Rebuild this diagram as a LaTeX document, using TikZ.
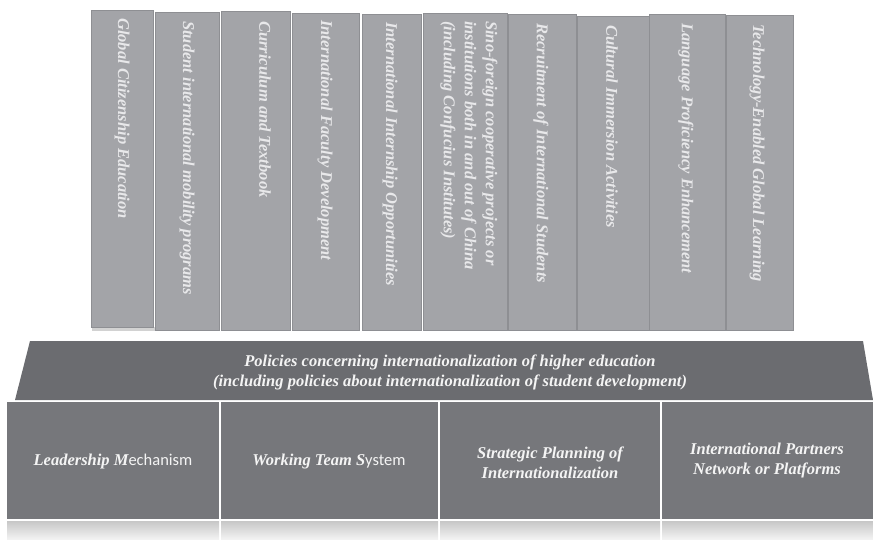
\documentclass[tikz,border=0pt]{standalone}
\usepackage{fontspec}
\setmainfont{Liberation Serif}
\newfontfamily\carlitofont{Carlito}
\usetikzlibrary{positioning}
\definecolor{colfill}{HTML}{A3A4A8}
\definecolor{coledge}{HTML}{8E8F93}
\definecolor{coltext}{HTML}{E8E8EA}
\definecolor{trapfill}{HTML}{6B6C70}
\definecolor{boxfill}{HTML}{76777B}
\definecolor{boxtext}{HTML}{F4F4F4}
\tikzset{
  colbox/.style={fill=colfill, draw=coledge, line width=0.6pt},
  coltxt/.style={rotate=-90, anchor=west, inner sep=0pt, text=coltext,
    font=\fontsize{16.5}{21}\selectfont\bfseries\itshape, align=left},
  basebox/.style={fill=boxfill, draw=none},
  boxtxt/.style={text=boxtext, font=\fontsize{16.5}{20}\selectfont\bfseries\itshape, align=center},
  refl/.style={top color=black!22, bottom color=black!4, draw=none},
}
\begin{document}
\begin{tikzpicture}[x=1pt,y=-1pt]
\useasboundingbox (0,0) rectangle (873,540);
% columns
\fill[black!35, opacity=0.5] (92,327) rectangle (155,331);
\draw[colbox] (91,10) rectangle (153,327);
\draw[colbox] (155,12) rectangle (219,330);
\draw[colbox] (221,11) rectangle (290,330);
\draw[colbox] (292,13) rectangle (359,330);
\draw[colbox] (362,14) rectangle (421,330);
\draw[colbox] (423,13) rectangle (507,330);
\draw[colbox] (508,14) rectangle (576,330);
\draw[colbox] (577,16) rectangle (649,330);
\draw[colbox] (649,14) rectangle (725,330);
\draw[colbox] (726,15) rectangle (793,330);
\node[coltxt] (c1) at (122,18) {Global Citizenship Education};
\node[coltxt] (c2) at (187,21) {Student international mobility programs};
\node[coltxt] (c3) at (265,21) {Curriculum and Textbook};
\node[coltxt] (c4) at (325,20) {International Faculty Development};
\node[coltxt] (c5) at (390,22) {International Internship Opportunities};
\node[coltxt] (c6) at (469,21) {Sino-foreign cooperative projects or\\institutions both in and out of China\\(including Confucius Institutes)};
\node[coltxt] (c7) at (541,23) {Recruitment of International Students};
\node[coltxt] (c8) at (612,25) {Cultural Immersion Activities};
\node[coltxt] (c9) at (686,23) {Language Proficiency Enhancement};
\node[coltxt] (c10) at (757,24) {Technology-Enabled Global Learning};
% policy trapezoid
\fill[trapfill] (30,341) -- (863,341) -- (873,400) -- (15,400) -- cycle;
\node[boxtxt] (pol) at (450,372) {Policies concerning internationalization of higher education\\(including policies about internationalization of student development)};
% base boxes
\fill[basebox] (7,402) rectangle (219,519);
\fill[basebox] (221,402) rectangle (438,519);
\fill[basebox] (440,402) rectangle (660,519);
\fill[basebox] (662,402) rectangle (873,519);
\shade[refl] (7,521) rectangle (219,540);
\shade[refl] (221,521) rectangle (438,540);
\shade[refl] (440,521) rectangle (660,540);
\shade[refl] (662,521) rectangle (873,540);
\node[boxtxt] (b1) at (113,462) {Leadership M{\carlitofont\upshape\mdseries echanism}};
\node[boxtxt] (b2) at (329,462) {Working Team S{\carlitofont\upshape\mdseries ystem}};
\node[boxtxt] (b3) at (550,463) {Strategic Planning of\\Internationalization};
\node[boxtxt] (b4) at (767,461) {International Partners\\Network or Platforms};
\end{tikzpicture}
\end{document}
